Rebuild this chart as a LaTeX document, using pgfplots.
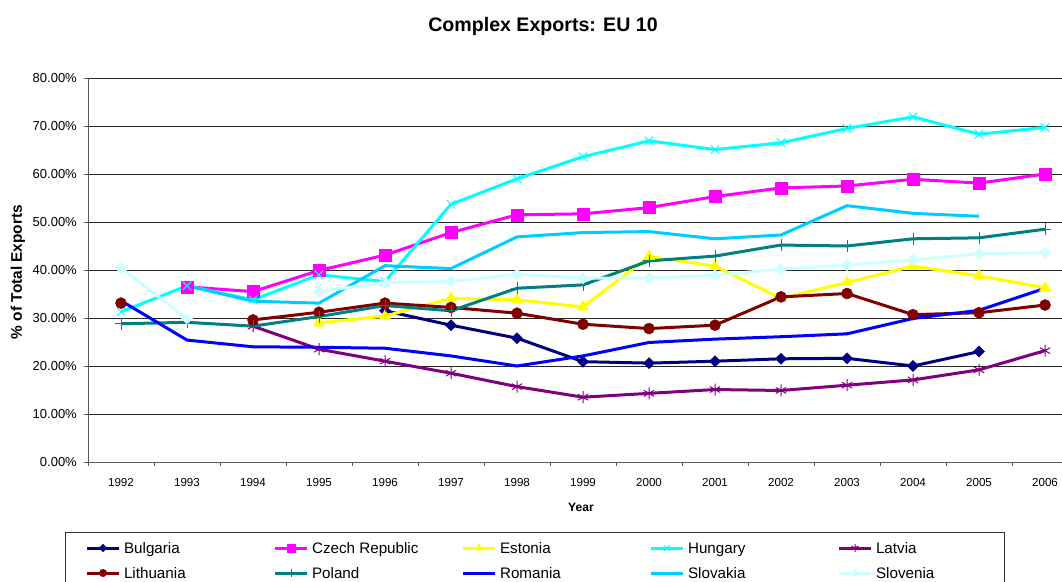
\documentclass[border=0pt]{standalone}
\usepackage{pgfplots}
\pgfplotsset{compat=1.18}
\usepackage{fontspec}
\setmainfont{Liberation Sans}
\definecolor{cBul}{HTML}{000080}
\definecolor{cCze}{HTML}{FF00FF}
\definecolor{cEst}{HTML}{FFFF00}
\definecolor{cHun}{HTML}{00FFFF}
\definecolor{cLat}{HTML}{800080}
\definecolor{cLit}{HTML}{800000}
\definecolor{cPol}{HTML}{008080}
\definecolor{cRom}{HTML}{0000FF}
\definecolor{cSlk}{HTML}{00CCFF}
\definecolor{cSln}{HTML}{CCFFFF}
\begin{document}
\begin{tikzpicture}
\useasboundingbox (0,0) rectangle (1062pt,581pt);
\node[font=\bfseries\fontsize{19.6}{23}\selectfont] at (543pt,555pt) {Complex Exports: EU 10};
\node[font=\bfseries\fontsize{15.4}{18}\selectfont, rotate=90] at (18pt,309pt) {\% of Total Exports};
\node[font=\bfseries\fontsize{12.1}{14}\selectfont] at (581pt,74pt) {Year};
\begin{axis}[
  at={(88pt,119pt)}, anchor=south west,
  scale only axis, width=990pt, height=384pt,
  xmin=-0.5, xmax=14.5, ymin=0, ymax=80,
  axis x line*=bottom, axis y line*=left,
  axis line style={black!65, line width=1pt},
  xtick={0,...,14},
  xticklabels={1992,1993,1994,1995,1996,1997,1998,1999,2000,2001,2002,2003,2004,2005,2006},
  minor xtick={-0.5,0.5,...,13.5},
  major x tick style={draw=none},
  minor x tick style={draw=black!65, line width=1pt},
  ytick={0,10,...,80},
  yticklabels={0.00\%,10.00\%,20.00\%,30.00\%,40.00\%,50.00\%,60.00\%,70.00\%,80.00\%},
  y tick style={draw=black!65, line width=1pt},
  tick align=outside, major tick length=4pt, minor tick length=4pt,
  ymajorgrids, major y grid style={black!85, line width=0.9pt},
  yticklabel style={font=\fontsize{13}{15}\selectfont, inner sep=0pt, anchor=east, xshift=-7pt},
  xticklabel style={font=\fontsize{11.6}{14}\selectfont, inner sep=0pt, anchor=north, yshift=-12.5pt},
  unbounded coords=jump,
  every axis plot/.append style={line width=3pt},
  legend columns=5,
  legend cell align=left,
  legend image code/.code={\draw[mark repeat=2,mark phase=2] plot coordinates {(0pt,0pt) (16pt,0pt) (32pt,0pt)};},
  legend image post style={/tikz/every mark/.append style={scale=0.68}},
  legend style={at={(axis description cs:-0.0232,-0.1823)}, anchor=north west,
    draw=black!80, line width=1pt, fill=white,
    inner xsep=20pt, inner ysep=8pt,
    font=\fontsize{15.2}{18}\selectfont,
    column sep=0pt, row sep=10pt,
    /tikz/every odd column/.append style={column sep=3.5pt},
    nodes={inner sep=0pt, text height=12.9pt, text depth=2.1pt}},
]
\addplot[cBul, mark=square*, mark size=3.9pt, mark options={solid, rotate=45, line width=0.5pt, fill=cBul}]
 coordinates {(4,31.5) (5,28.5) (6,25.8) (7,20.9) (8,20.6) (9,21.0) (10,21.5) (11,21.6) (12,20.0) (13,23.0)};
\addlegendentry{\makebox[149.5pt][l]{Bulgaria}}
\addplot[cCze, mark=square*, mark size=6pt, mark options={solid, line width=0.5pt, fill=cCze}]
 coordinates {(1,36.5) (2,35.5) (3,39.9) (4,43.1) (5,47.8) (6,51.5) (7,51.7) (8,53.0) (9,55.3) (10,57.1) (11,57.5) (12,58.9) (13,58.1) (14,60.0)};
\addlegendentry{\makebox[149.5pt][l]{Czech Republic}}
\addplot[cEst, mark=triangle*, mark size=6.5pt, mark options={solid, line width=0.5pt, fill=cEst}]
 coordinates {(3,29.0) (4,30.4) (5,34.1) (6,33.8) (7,32.3) (8,42.8) (9,40.8) (10,34.1) (11,37.4) (12,40.8) (13,38.8) (14,36.3)};
\addlegendentry{\makebox[149.5pt][l]{Estonia}}
\addplot[cHun, mark=x, mark size=6pt, mark options={solid, line width=1pt}]
 coordinates {(0,31.3) (1,36.7) (2,33.8) (3,39.0) (4,37.6) (5,53.7) (6,59.0) (7,63.6) (8,66.9) (9,65.1) (10,66.5) (11,69.5) (12,71.9) (13,68.3) (14,69.7)};
\addlegendentry{\makebox[149.5pt][l]{Hungary}}
\addplot[cLat, mark=asterisk, mark size=6pt, mark options={solid, line width=1pt}]
 coordinates {(2,28.3) (3,23.5) (4,21.0) (5,18.5) (6,15.7) (7,13.5) (8,14.3) (9,15.1) (10,14.9) (11,16.0) (12,17.1) (13,19.2) (14,23.2)};
\addlegendentry{\makebox[108pt][l]{Latvia}}
\addplot[cLit, mark=*, mark size=5.5pt, mark options={solid, line width=0.5pt, fill=cLit}]
 coordinates {(0,33.1) (1,nan) (2,29.6) (3,31.2) (4,33.1) (5,32.2) (6,31.0) (7,28.7) (8,27.8) (9,28.5) (10,34.4) (11,35.1) (12,30.7) (13,31.1) (14,32.7)};
\addlegendentry{\makebox[149.5pt][l]{Lithuania}}
\addplot[cPol, mark=+, mark size=6pt, mark options={solid, line width=1pt}]
 coordinates {(0,28.8) (1,29.1) (2,28.3) (3,30.3) (4,32.6) (5,31.5) (6,36.2) (7,36.9) (8,41.9) (9,42.9) (10,45.2) (11,45.0) (12,46.5) (13,46.7) (14,48.5)};
\addlegendentry{\makebox[149.5pt][l]{Poland}}
\addplot[cRom]
 coordinates {(0,33.6) (1,25.4) (2,24.0) (3,23.9) (4,23.7) (5,22.1) (6,20.0) (7,22.1) (8,24.9) (9,25.6) (10,26.1) (11,26.7) (12,29.9) (13,31.6) (14,36.2)};
\addlegendentry{\makebox[149.5pt][l]{Romania}}
\addplot[cSlk]
 coordinates {(1,36.7) (2,33.5) (3,33.1) (4,40.9) (5,40.3) (6,46.9) (7,47.8) (8,48.0) (9,46.5) (10,47.3) (11,53.4) (12,51.8) (13,51.2)};
\addlegendentry{\makebox[149.5pt][l]{Slovakia}}
\addplot[cSln, mark=square*, mark size=3.9pt, mark options={solid, rotate=45, line width=0.5pt, fill=cSln}]
 coordinates {(0,40.4) (1,29.9) (2,nan) (3,35.5) (4,37.4) (5,37.6) (6,39.1) (7,38.3) (8,38.3) (9,38.9) (10,40.2) (11,41.0) (12,42.1) (13,43.4) (14,43.6)};
\addlegendentry{\makebox[108pt][l]{Slovenia}}
\end{axis}
\end{tikzpicture}
\end{document}
